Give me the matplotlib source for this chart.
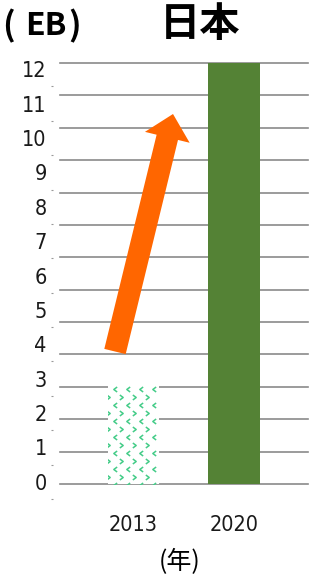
import matplotlib
matplotlib.use("Agg")
import matplotlib.pyplot as plt
import numpy as np
from matplotlib.patches import FancyArrow
from matplotlib.transforms import IdentityTransform
from matplotlib.path import Path
from matplotlib import font_manager as fm

# ---- data ----
years = ["2013", "2020"]
values = [3.09, 13.0]          # bar heights on the gridline scale (0-13)
ytick_labels = [str(i) for i in range(13)]   # label column 0..12
unit_label = "EB"
title = "日本"
xlabel = "(年)"

W, H = 310, 577
fig = plt.figure(figsize=(W / 100, H / 100), dpi=100)
fig.patch.set_facecolor("white")

narrow_fp = fm.FontProperties(family="DejaVu Sans", stretch="condensed", size=15.5)
CJK = ["Noto Sans CJK JP", "DejaVu Sans"]

# main axes
ax = fig.add_axes([60 / W, 1 - 484 / H, 248 / W, 421 / H])
ax.set_xlim(-0.731, 1.737)
ax.set_ylim(0, 13)
for v in range(14):
    ax.axhline(v, color="#8a8a8a", lw=1.2, zorder=1, clip_on=False)
for s in ax.spines.values():
    s.set_visible(False)
ax.set_yticks([])
x = np.arange(len(years))
bars = ax.bar(x, values, width=0.51, color=["white", "#548235"], zorder=2)
ax.set_xticks(x)
ax.set_xticklabels(years, fontproperties=narrow_fp, color="#1a1a1a")
ax.tick_params(axis="x", length=0, pad=22)

# chevron texture for the 2013 bar
lt = Path([(0.4, 0.6), (-0.4, 0.0), (0.4, -0.6)], [Path.MOVETO, Path.LINETO, Path.LINETO])
gt = Path([(-0.4, 0.6), (0.4, 0.0), (-0.4, -0.6)], [Path.MOVETO, Path.LINETO, Path.LINETO])
b0 = bars[0]
dxp, dyp = 13 / 100.5, 16 / 32.38
xs_lt = np.arange(-0.185, 0.26, dxp)
xs_gt = xs_lt - 6.5 / 100.5
ys_lt = np.arange(2.44 - 0.494 * 6, values[0] + 0.3, dyp)
ys_gt = ys_lt - 0.247
XL, YL = np.meshgrid(xs_lt, ys_lt)
XG, YG = np.meshgrid(xs_gt, ys_gt)
green = "#44cc88"
for XX, YY, mk in [(XL, YL, lt), (XG, YG, gt)]:
    ln, = ax.plot(XX.ravel(), YY.ravel(), linestyle="none", marker=mk, markersize=3.6,
                  markerfacecolor="none", markeredgecolor=green, markeredgewidth=1.1, zorder=3)
    ln.set_clip_path(b0)

# label column axes (0..12)
lax = fig.add_axes([53 / W, 1 - 499 / H, 0.001, 447 / H])
lax.set_ylim(-0.5, 12.5)
lax.set_xticks([])
for s in lax.spines.values():
    s.set_visible(False)
lax.patch.set_alpha(0)
lax.set_yticks(range(13))
lax.set_yticklabels(ytick_labels, fontproperties=narrow_fp, color="#1a1a1a")
lax.set_yticks(np.arange(-0.5, 12.0, 1.0), minor=True)
lax.tick_params(axis="y", which="major", length=0, pad=4.5)
lax.tick_params(axis="y", which="minor", length=1.2, width=0.8, color="#999999")

# arrow
arr = FancyArrow(115, H - 351.5, 58, 237.5, width=22, head_width=46, head_length=24,
                 length_includes_head=True, color="#ff6600", lw=0,
                 transform=IdentityTransform(), zorder=5)
fig.add_artist(arr)

# titles
fig.text(200 / W, 1 - 24 / H, title, ha="center", va="center", fontsize=29,
         fontweight="bold", family=CJK)
fig.text(8 / W, 1 - 26 / H, "(", ha="center", va="center", fontsize=24, fontweight="bold", family=CJK)
fig.text(46 / W, 1 - 26 / H, unit_label, ha="center", va="center", fontsize=23, fontweight="bold", family=CJK)
fig.text(75 / W, 1 - 26 / H, ")", ha="center", va="center", fontsize=24, fontweight="bold", family=CJK)
fig.text(180 / W, 1 - 562 / H, xlabel, ha="center", va="center", fontsize=18, family=CJK)

fig.savefig("out.png", dpi=100)
